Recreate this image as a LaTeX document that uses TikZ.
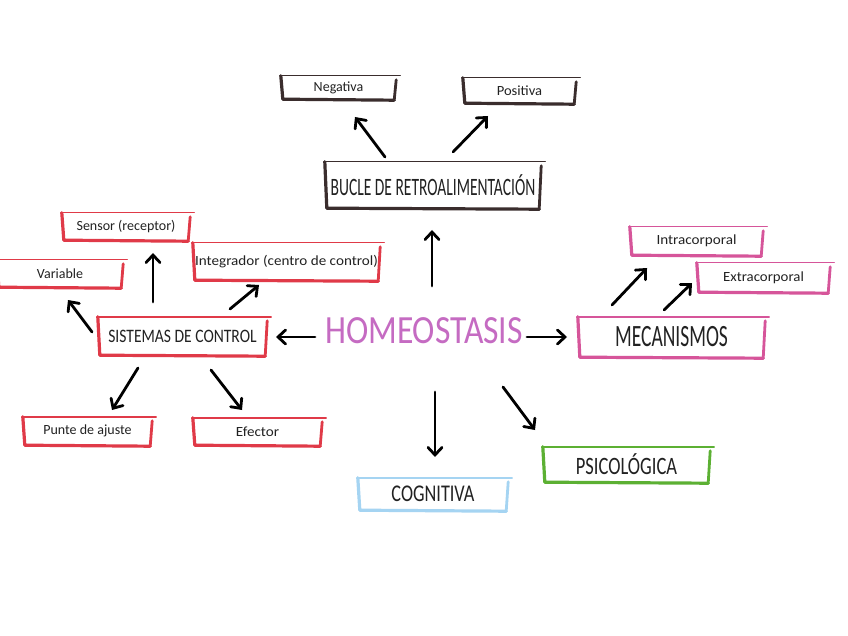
\documentclass[tikz,border=0pt]{standalone}
\usepackage{fontspec}
\setmainfont{Carlito}
\usetikzlibrary{arrows.meta,calc}
\definecolor{skred}{HTML}{E03A48}
\definecolor{skblack}{HTML}{3A2D2D}
\definecolor{skpink}{HTML}{D6559A}
\definecolor{skgreen}{HTML}{5CB033}
\definecolor{skblue}{HTML}{A5D4F2}
\definecolor{skpurple}{HTML}{C56BC2}
\definecolor{sktext}{HTML}{222222}
\newcommand\cond[2]{\scalebox{#1}[1]{#2}}
\newcommand\skout[2]{%
  \draw[#2,line width=1.4,line cap=round] ($(#1.north west)+(-1,0)$) -- ($(#1.north east)+(4,0)$);
  \draw[#2,line width=3.2,line cap=round,line join=round] (#1.north west) -- ($(#1.south west)+(2,0)$) -- ($(#1.south east)+(-2,1)$);
  \draw[#2,line width=2.8,line cap=round] ($(#1.south east)+(-2,1)$) -- ($(#1.north east)+(0,4)$);
}
\tikzset{
  lbl/.style={draw=none,inner sep=0pt,text=sktext,font=\fontsize{14}{16}\selectfont},
  caplbl/.style={draw=none,inner sep=0pt,text=sktext},
  arr/.style={draw=black,line width=2.8,line cap=round,-{Straight Barb[length=7.5pt,width=14pt,line cap=round]}}
}
\begin{document}
\begin{tikzpicture}[x=1pt,y=-1pt]
\useasboundingbox[fill=white] (0,0) rectangle (848,636);
% top group
\node[lbl,minimum width=115,minimum height=23] (neg) at (338.5,87.5) {Negativa};
\node[lbl,minimum width=113,minimum height=25] (pos) at (519.5,90.5) {\cond{1.04}{Positiva}};
\node[caplbl,minimum width=216,minimum height=46,font=\fontsize{25}{27}\selectfont] (bucle) at (433,185) {\cond{0.62}{BUCLE DE RETROALIMENTACIÓN}};
\skout{neg}{skblack}
\skout{pos}{skblack}
\skout{bucle}{skblack}
% centre
\node[caplbl,text=skpurple,font=\fontsize{40}{42}\selectfont] (homeo) at (424,331) {\cond{0.84}{HOMEOSTASIS}};
% left group
\node[lbl,minimum width=128,minimum height=27] (sensor) at (126,226.5) {Sensor (receptor)};
\node[lbl,minimum width=187,minimum height=37] (integ) at (286.5,261.5) {\cond{1.08}{Integrador (centro de control)}};
\node[lbl,minimum width=126,minimum height=27] (var) at (60,273.5) {Variable};
\node[caplbl,minimum width=169,minimum height=38,font=\fontsize{19}{21}\selectfont] (sis) at (182.5,336) {\cond{0.82}{SISTEMAS DE CONTROL}};
\node[lbl,minimum width=129,minimum height=28] (punte) at (87.5,431) {Punte de ajuste};
\node[lbl,minimum width=129,minimum height=27] (efector) at (257.5,431.5) {\cond{1.08}{Efector}};
\skout{sensor}{skred}
\skout{integ}{skred}
\skout{var}{skred}
\skout{sis}{skred}
\skout{punte}{skred}
\skout{efector}{skred}
% right group
\node[lbl,minimum width=133,minimum height=28] (intra) at (696.5,241) {\cond{1.08}{Intracorporal}};
\node[lbl,minimum width=133,minimum height=29] (extra) at (763.5,277.5) {\cond{1.06}{Extracorporal}};
\node[caplbl,minimum width=187,minimum height=40,font=\fontsize{31}{33}\selectfont] (meca) at (671.5,337) {\cond{0.63}{MECANISMOS}};
\skout{intra}{skpink}
\skout{extra}{skpink}
\skout{meca}{skpink}
% bottom
\node[caplbl,minimum width=167,minimum height=35,font=\fontsize{25}{27}\selectfont] (psico) at (626.5,464.5) {\cond{0.74}{PSICOLÓGICA}};
\node[caplbl,minimum width=150,minimum height=32,font=\fontsize{24}{26}\selectfont] (cogn) at (433,494) {\cond{0.76}{COGNITIVA}};
\skout{psico}{skgreen}
\skout{cogn}{skblue}
% arrow end points
\coordinate (hb1) at (432,286); \coordinate (hb2) at (432,230);
\coordinate (bn1) at (385,157); \coordinate (bn2) at (355,117);
\coordinate (bp1) at (453,152); \coordinate (bp2) at (488,116);
\coordinate (hs1) at (315,337); \coordinate (hs2) at (276,337);
\coordinate (ss1) at (153,302); \coordinate (ss2) at (153,253);
\coordinate (sv1) at (92,332);  \coordinate (sv2) at (68,300);
\coordinate (si1) at (230,309); \coordinate (si2) at (259,285);
\coordinate (sp1) at (138,368); \coordinate (sp2) at (112,410);
\coordinate (se1) at (211,370); \coordinate (se2) at (242,410);
\coordinate (hm1) at (527,337); \coordinate (hm2) at (567,337);
\coordinate (mi1) at (612,305); \coordinate (mi2) at (647,268);
\coordinate (me1) at (664,310); \coordinate (me2) at (692,283);
\coordinate (hc1) at (435,392); \coordinate (hc2) at (435,457);
\coordinate (hp1) at (503,387); \coordinate (hp2) at (535,430);
\draw[arr] (hb1) -- (hb2);
\draw[arr] (bn1) -- (bn2);
\draw[arr] (bp1) -- (bp2);
\draw[arr] (hs1) -- (hs2);
\draw[arr] (ss1) -- (ss2);
\draw[arr] (sv1) -- (sv2);
\draw[arr] (si1) -- (si2);
\draw[arr] (sp1) -- (sp2);
\draw[arr] (se1) -- (se2);
\draw[arr] (hm1) -- (hm2);
\draw[arr] (mi1) -- (mi2);
\draw[arr] (me1) -- (me2);
\draw[arr] (hc1) -- (hc2);
\draw[arr] (hp1) -- (hp2);
\end{tikzpicture}
\end{document}
